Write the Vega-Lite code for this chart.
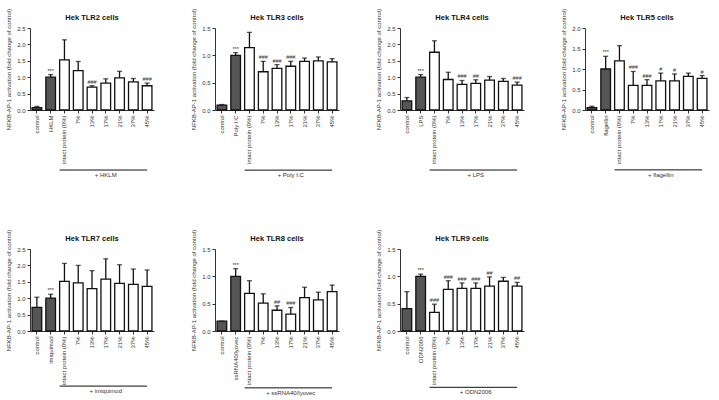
{
  "$schema": "https://vega.github.io/schema/vega-lite/v6.json",
  "datasets": {
    "d": [
      {"panel": "TLR2", "cond": "control", "kind": "ctrl", "value": 0.07, "upper": 0.11, "sig": ""},
      {"panel": "TLR2", "cond": "HKLM", "kind": "ctrl", "value": 1.0, "upper": 1.08, "sig": "***"},
      {"panel": "TLR2", "cond": "intact protein (0%)", "kind": "trt", "value": 1.53, "upper": 2.14, "sig": ""},
      {"panel": "TLR2", "cond": "7%", "kind": "trt", "value": 1.2, "upper": 1.48, "sig": ""},
      {"panel": "TLR2", "cond": "13%", "kind": "trt", "value": 0.7, "upper": 0.74, "sig": "###"},
      {"panel": "TLR2", "cond": "17%", "kind": "trt", "value": 0.82, "upper": 0.95, "sig": ""},
      {"panel": "TLR2", "cond": "21%", "kind": "trt", "value": 0.98, "upper": 1.18, "sig": ""},
      {"panel": "TLR2", "cond": "37%", "kind": "trt", "value": 0.86, "upper": 0.96, "sig": ""},
      {"panel": "TLR2", "cond": "45%", "kind": "trt", "value": 0.74, "upper": 0.82, "sig": "###"},

      {"panel": "TLR3", "cond": "control", "kind": "ctrl", "value": 0.09, "upper": 0.1, "sig": ""},
      {"panel": "TLR3", "cond": "Poly I:C", "kind": "ctrl", "value": 1.0, "upper": 1.05, "sig": "***"},
      {"panel": "TLR3", "cond": "intact protein (0%)", "kind": "trt", "value": 1.14, "upper": 1.42, "sig": ""},
      {"panel": "TLR3", "cond": "7%", "kind": "trt", "value": 0.7, "upper": 0.89, "sig": "###"},
      {"panel": "TLR3", "cond": "13%", "kind": "trt", "value": 0.76, "upper": 0.83, "sig": "###"},
      {"panel": "TLR3", "cond": "17%", "kind": "trt", "value": 0.8, "upper": 0.89, "sig": "###"},
      {"panel": "TLR3", "cond": "21%", "kind": "trt", "value": 0.89, "upper": 0.95, "sig": ""},
      {"panel": "TLR3", "cond": "37%", "kind": "trt", "value": 0.9, "upper": 0.97, "sig": ""},
      {"panel": "TLR3", "cond": "45%", "kind": "trt", "value": 0.88, "upper": 0.94, "sig": ""},

      {"panel": "TLR4", "cond": "control", "kind": "ctrl", "value": 0.28, "upper": 0.38, "sig": ""},
      {"panel": "TLR4", "cond": "LPS", "kind": "ctrl", "value": 1.0, "upper": 1.08, "sig": "***"},
      {"panel": "TLR4", "cond": "intact protein (0%)", "kind": "trt", "value": 1.76, "upper": 2.11, "sig": ""},
      {"panel": "TLR4", "cond": "7%", "kind": "trt", "value": 0.93, "upper": 1.15, "sig": ""},
      {"panel": "TLR4", "cond": "13%", "kind": "trt", "value": 0.78, "upper": 0.9, "sig": "###"},
      {"panel": "TLR4", "cond": "17%", "kind": "trt", "value": 0.81, "upper": 0.92, "sig": "##"},
      {"panel": "TLR4", "cond": "21%", "kind": "trt", "value": 0.91, "upper": 1.02, "sig": ""},
      {"panel": "TLR4", "cond": "37%", "kind": "trt", "value": 0.87, "upper": 0.96, "sig": ""},
      {"panel": "TLR4", "cond": "45%", "kind": "trt", "value": 0.76, "upper": 0.85, "sig": "###"},

      {"panel": "TLR5", "cond": "control", "kind": "ctrl", "value": 0.06, "upper": 0.09, "sig": ""},
      {"panel": "TLR5", "cond": "flagellin", "kind": "ctrl", "value": 1.0, "upper": 1.31, "sig": "***"},
      {"panel": "TLR5", "cond": "intact protein (0%)", "kind": "trt", "value": 1.2, "upper": 1.57, "sig": ""},
      {"panel": "TLR5", "cond": "7%", "kind": "trt", "value": 0.6, "upper": 0.94, "sig": "###"},
      {"panel": "TLR5", "cond": "13%", "kind": "trt", "value": 0.6, "upper": 0.74, "sig": "###"},
      {"panel": "TLR5", "cond": "17%", "kind": "trt", "value": 0.71, "upper": 0.9, "sig": "#"},
      {"panel": "TLR5", "cond": "21%", "kind": "trt", "value": 0.71, "upper": 0.88, "sig": "#"},
      {"panel": "TLR5", "cond": "37%", "kind": "trt", "value": 0.82, "upper": 0.9, "sig": ""},
      {"panel": "TLR5", "cond": "45%", "kind": "trt", "value": 0.77, "upper": 0.84, "sig": "#"},

      {"panel": "TLR7", "cond": "control", "kind": "ctrl", "value": 0.72, "upper": 1.03, "sig": ""},
      {"panel": "TLR7", "cond": "imiquimod", "kind": "ctrl", "value": 1.0, "upper": 1.12, "sig": "***"},
      {"panel": "TLR7", "cond": "intact protein (0%)", "kind": "trt", "value": 1.51, "upper": 2.06, "sig": ""},
      {"panel": "TLR7", "cond": "7%", "kind": "trt", "value": 1.47, "upper": 2.0, "sig": ""},
      {"panel": "TLR7", "cond": "13%", "kind": "trt", "value": 1.29, "upper": 1.84, "sig": ""},
      {"panel": "TLR7", "cond": "17%", "kind": "trt", "value": 1.58, "upper": 2.2, "sig": ""},
      {"panel": "TLR7", "cond": "21%", "kind": "trt", "value": 1.45, "upper": 2.02, "sig": ""},
      {"panel": "TLR7", "cond": "37%", "kind": "trt", "value": 1.42, "upper": 1.89, "sig": ""},
      {"panel": "TLR7", "cond": "45%", "kind": "trt", "value": 1.36, "upper": 1.86, "sig": ""},

      {"panel": "TLR8", "cond": "control", "kind": "ctrl", "value": 0.18, "upper": 0.18, "sig": ""},
      {"panel": "TLR8", "cond": "ssRNA40/lyovec", "kind": "ctrl", "value": 1.0, "upper": 1.14, "sig": "***"},
      {"panel": "TLR8", "cond": "intact protein (0%)", "kind": "trt", "value": 0.69, "upper": 0.92, "sig": ""},
      {"panel": "TLR8", "cond": "7%", "kind": "trt", "value": 0.51, "upper": 0.68, "sig": ""},
      {"panel": "TLR8", "cond": "13%", "kind": "trt", "value": 0.38, "upper": 0.46, "sig": "##"},
      {"panel": "TLR8", "cond": "17%", "kind": "trt", "value": 0.31, "upper": 0.43, "sig": "###"},
      {"panel": "TLR8", "cond": "21%", "kind": "trt", "value": 0.61, "upper": 0.8, "sig": ""},
      {"panel": "TLR8", "cond": "37%", "kind": "trt", "value": 0.57, "upper": 0.71, "sig": ""},
      {"panel": "TLR8", "cond": "45%", "kind": "trt", "value": 0.72, "upper": 0.84, "sig": ""},

      {"panel": "TLR9", "cond": "control", "kind": "ctrl", "value": 0.41, "upper": 0.72, "sig": ""},
      {"panel": "TLR9", "cond": "ODN2006", "kind": "ctrl", "value": 1.0, "upper": 1.04, "sig": "***"},
      {"panel": "TLR9", "cond": "intact protein (0%)", "kind": "trt", "value": 0.34, "upper": 0.49, "sig": "###"},
      {"panel": "TLR9", "cond": "7%", "kind": "trt", "value": 0.76, "upper": 0.92, "sig": "###"},
      {"panel": "TLR9", "cond": "13%", "kind": "trt", "value": 0.78, "upper": 0.88, "sig": "###"},
      {"panel": "TLR9", "cond": "17%", "kind": "trt", "value": 0.78, "upper": 0.88, "sig": "###"},
      {"panel": "TLR9", "cond": "21%", "kind": "trt", "value": 0.82, "upper": 0.99, "sig": "##"},
      {"panel": "TLR9", "cond": "37%", "kind": "trt", "value": 0.91, "upper": 0.98, "sig": ""},
      {"panel": "TLR9", "cond": "45%", "kind": "trt", "value": 0.82, "upper": 0.89, "sig": "##"}
    ]
  },
  "data": {"name": "d"},
  "columns": 4,
  "bounds": "flush",
  "spacing": {"row": 139, "column": 61},
  "padding": {"left": 5, "top": 8, "right": 3, "bottom": 0},
  "concat": [
    {
      "title": "Hek TLR2 cells", "width": 124, "height": 82,
      "transform": [{"filter": "datum.panel === 'TLR2'"}],
      "encoding": {"x": {"field": "cond", "type": "nominal", "title": null, "scale": {"domain": ["control", "HKLM", "intact protein (0%)", "7%", "13%", "17%", "21%", "37%", "45%"], "paddingInner": 0.3, "paddingOuter": 0.15}}},
      "layer": [
        {"mark": {"type": "bar", "stroke": "#111", "strokeWidth": 1.3}, "encoding": {"y": {"field": "value", "type": "quantitative", "title": "NFKB-AP-1 activation (fold change of control)", "scale": {"domain": [0, 2.5], "nice": false}, "axis": {"values": [0, 0.5, 1, 1.5, 2, 2.5], "format": ".1f"}}, "fill": {"field": "kind", "type": "nominal", "scale": {"domain": ["ctrl", "trt"], "range": ["#555555", "#ffffff"]}, "legend": null}}},
        {"mark": {"type": "rule", "color": "#111", "strokeWidth": 1.3}, "encoding": {"y": {"field": "value", "type": "quantitative", "title": "NFKB-AP-1 activation (fold change of control)", "axis": {"values": [0, 0.5, 1, 1.5, 2, 2.5], "format": ".1f"}}, "y2": {"field": "upper"}}},
        {"mark": {"type": "tick", "color": "#111", "thickness": 1.3, "size": 5}, "encoding": {"y": {"field": "upper", "type": "quantitative", "title": "NFKB-AP-1 activation (fold change of control)", "axis": {"values": [0, 0.5, 1, 1.5, 2, 2.5], "format": ".1f"}}}},
        {"mark": {"type": "text", "fontSize": 5.5, "dy": -4, "color": "#333"}, "encoding": {"y": {"field": "upper", "type": "quantitative", "title": "NFKB-AP-1 activation (fold change of control)", "axis": {"values": [0, 0.5, 1, 1.5, 2, 2.5], "format": ".1f"}}, "text": {"field": "sig"}}},
        {"transform": [{"filter": "datum.cond === '45%'"}], "mark": {"type": "rule", "color": "#111", "strokeWidth": 1}, "encoding": {"x": {"datum": "intact protein (0%)", "bandPosition": 0}, "x2": {"datum": "45%"}, "y": {"datum": -1.83, "type": "quantitative", "title": "NFKB-AP-1 activation (fold change of control)", "axis": {"values": [0, 0.5, 1, 1.5, 2, 2.5], "format": ".1f"}}}},
        {"transform": [{"filter": "datum.cond === '45%'"}], "mark": {"type": "text", "fontSize": 6, "baseline": "top", "dy": 2, "color": "#333"}, "encoding": {"x": {"datum": "17%"}, "y": {"datum": -1.83, "type": "quantitative", "title": "NFKB-AP-1 activation (fold change of control)", "axis": {"values": [0, 0.5, 1, 1.5, 2, 2.5], "format": ".1f"}}, "text": {"value": "+ HKLM"}}}
      ]
    },
    {
      "title": "Hek TLR3 cells", "width": 124, "height": 82,
      "transform": [{"filter": "datum.panel === 'TLR3'"}],
      "encoding": {"x": {"field": "cond", "type": "nominal", "title": null, "scale": {"domain": ["control", "Poly I:C", "intact protein (0%)", "7%", "13%", "17%", "21%", "37%", "45%"], "paddingInner": 0.3, "paddingOuter": 0.15}}},
      "layer": [
        {"mark": {"type": "bar", "stroke": "#111", "strokeWidth": 1.3}, "encoding": {"y": {"field": "value", "type": "quantitative", "title": "NFKB-AP-1 activation (fold change of control)", "scale": {"domain": [0, 1.5], "nice": false}, "axis": {"values": [0, 0.5, 1, 1.5], "format": ".1f"}}, "fill": {"field": "kind", "type": "nominal", "scale": {"domain": ["ctrl", "trt"], "range": ["#555555", "#ffffff"]}, "legend": null}}},
        {"mark": {"type": "rule", "color": "#111", "strokeWidth": 1.3}, "encoding": {"y": {"field": "value", "type": "quantitative", "title": "NFKB-AP-1 activation (fold change of control)", "axis": {"values": [0, 0.5, 1, 1.5], "format": ".1f"}}, "y2": {"field": "upper"}}},
        {"mark": {"type": "tick", "color": "#111", "thickness": 1.3, "size": 5}, "encoding": {"y": {"field": "upper", "type": "quantitative", "title": "NFKB-AP-1 activation (fold change of control)", "axis": {"values": [0, 0.5, 1, 1.5], "format": ".1f"}}}},
        {"mark": {"type": "text", "fontSize": 5.5, "dy": -4, "color": "#333"}, "encoding": {"y": {"field": "upper", "type": "quantitative", "title": "NFKB-AP-1 activation (fold change of control)", "axis": {"values": [0, 0.5, 1, 1.5], "format": ".1f"}}, "text": {"field": "sig"}}},
        {"transform": [{"filter": "datum.cond === '45%'"}], "mark": {"type": "rule", "color": "#111", "strokeWidth": 1}, "encoding": {"x": {"datum": "intact protein (0%)", "bandPosition": 0}, "x2": {"datum": "45%"}, "y": {"datum": -1.1, "type": "quantitative", "title": "NFKB-AP-1 activation (fold change of control)", "axis": {"values": [0, 0.5, 1, 1.5], "format": ".1f"}}}},
        {"transform": [{"filter": "datum.cond === '45%'"}], "mark": {"type": "text", "fontSize": 6, "baseline": "top", "dy": 2, "color": "#333"}, "encoding": {"x": {"datum": "17%"}, "y": {"datum": -1.1, "type": "quantitative", "title": "NFKB-AP-1 activation (fold change of control)", "axis": {"values": [0, 0.5, 1, 1.5], "format": ".1f"}}, "text": {"value": "+ Poly I:C"}}}
      ]
    },
    {
      "title": "Hek TLR4 cells", "width": 124, "height": 82,
      "transform": [{"filter": "datum.panel === 'TLR4'"}],
      "encoding": {"x": {"field": "cond", "type": "nominal", "title": null, "scale": {"domain": ["control", "LPS", "intact protein (0%)", "7%", "13%", "17%", "21%", "37%", "45%"], "paddingInner": 0.3, "paddingOuter": 0.15}}},
      "layer": [
        {"mark": {"type": "bar", "stroke": "#111", "strokeWidth": 1.3}, "encoding": {"y": {"field": "value", "type": "quantitative", "title": "NFKB-AP-1 activation (fold change of control)", "scale": {"domain": [0, 2.5], "nice": false}, "axis": {"values": [0, 0.5, 1, 1.5, 2, 2.5], "format": ".1f"}}, "fill": {"field": "kind", "type": "nominal", "scale": {"domain": ["ctrl", "trt"], "range": ["#555555", "#ffffff"]}, "legend": null}}},
        {"mark": {"type": "rule", "color": "#111", "strokeWidth": 1.3}, "encoding": {"y": {"field": "value", "type": "quantitative", "title": "NFKB-AP-1 activation (fold change of control)", "axis": {"values": [0, 0.5, 1, 1.5, 2, 2.5], "format": ".1f"}}, "y2": {"field": "upper"}}},
        {"mark": {"type": "tick", "color": "#111", "thickness": 1.3, "size": 5}, "encoding": {"y": {"field": "upper", "type": "quantitative", "title": "NFKB-AP-1 activation (fold change of control)", "axis": {"values": [0, 0.5, 1, 1.5, 2, 2.5], "format": ".1f"}}}},
        {"mark": {"type": "text", "fontSize": 5.5, "dy": -4, "color": "#333"}, "encoding": {"y": {"field": "upper", "type": "quantitative", "title": "NFKB-AP-1 activation (fold change of control)", "axis": {"values": [0, 0.5, 1, 1.5, 2, 2.5], "format": ".1f"}}, "text": {"field": "sig"}}},
        {"transform": [{"filter": "datum.cond === '45%'"}], "mark": {"type": "rule", "color": "#111", "strokeWidth": 1}, "encoding": {"x": {"datum": "intact protein (0%)", "bandPosition": 0}, "x2": {"datum": "45%"}, "y": {"datum": -1.83, "type": "quantitative", "title": "NFKB-AP-1 activation (fold change of control)", "axis": {"values": [0, 0.5, 1, 1.5, 2, 2.5], "format": ".1f"}}}},
        {"transform": [{"filter": "datum.cond === '45%'"}], "mark": {"type": "text", "fontSize": 6, "baseline": "top", "dy": 2, "color": "#333"}, "encoding": {"x": {"datum": "17%"}, "y": {"datum": -1.83, "type": "quantitative", "title": "NFKB-AP-1 activation (fold change of control)", "axis": {"values": [0, 0.5, 1, 1.5, 2, 2.5], "format": ".1f"}}, "text": {"value": "+ LPS"}}}
      ]
    },
    {
      "title": "Hek TLR5 cells", "width": 124, "height": 82,
      "transform": [{"filter": "datum.panel === 'TLR5'"}],
      "encoding": {"x": {"field": "cond", "type": "nominal", "title": null, "scale": {"domain": ["control", "flagellin", "intact protein (0%)", "7%", "13%", "17%", "21%", "37%", "45%"], "paddingInner": 0.3, "paddingOuter": 0.15}}},
      "layer": [
        {"mark": {"type": "bar", "stroke": "#111", "strokeWidth": 1.3}, "encoding": {"y": {"field": "value", "type": "quantitative", "title": "NFKB-AP-1 activation (fold change of control)", "scale": {"domain": [0, 2.0], "nice": false}, "axis": {"values": [0, 0.5, 1, 1.5, 2], "format": ".1f"}}, "fill": {"field": "kind", "type": "nominal", "scale": {"domain": ["ctrl", "trt"], "range": ["#555555", "#ffffff"]}, "legend": null}}},
        {"mark": {"type": "rule", "color": "#111", "strokeWidth": 1.3}, "encoding": {"y": {"field": "value", "type": "quantitative", "title": "NFKB-AP-1 activation (fold change of control)", "axis": {"values": [0, 0.5, 1, 1.5, 2], "format": ".1f"}}, "y2": {"field": "upper"}}},
        {"mark": {"type": "tick", "color": "#111", "thickness": 1.3, "size": 5}, "encoding": {"y": {"field": "upper", "type": "quantitative", "title": "NFKB-AP-1 activation (fold change of control)", "axis": {"values": [0, 0.5, 1, 1.5, 2], "format": ".1f"}}}},
        {"mark": {"type": "text", "fontSize": 5.5, "dy": -4, "color": "#333"}, "encoding": {"y": {"field": "upper", "type": "quantitative", "title": "NFKB-AP-1 activation (fold change of control)", "axis": {"values": [0, 0.5, 1, 1.5, 2], "format": ".1f"}}, "text": {"field": "sig"}}},
        {"transform": [{"filter": "datum.cond === '45%'"}], "mark": {"type": "rule", "color": "#111", "strokeWidth": 1}, "encoding": {"x": {"datum": "intact protein (0%)", "bandPosition": 0}, "x2": {"datum": "45%"}, "y": {"datum": -1.46, "type": "quantitative", "title": "NFKB-AP-1 activation (fold change of control)", "axis": {"values": [0, 0.5, 1, 1.5, 2], "format": ".1f"}}}},
        {"transform": [{"filter": "datum.cond === '45%'"}], "mark": {"type": "text", "fontSize": 6, "baseline": "top", "dy": 2, "color": "#333"}, "encoding": {"x": {"datum": "17%"}, "y": {"datum": -1.46, "type": "quantitative", "title": "NFKB-AP-1 activation (fold change of control)", "axis": {"values": [0, 0.5, 1, 1.5, 2], "format": ".1f"}}, "text": {"value": "+ flagellin"}}}
      ]
    },
    {
      "title": "Hek TLR7 cells", "width": 124, "height": 82,
      "transform": [{"filter": "datum.panel === 'TLR7'"}],
      "encoding": {"x": {"field": "cond", "type": "nominal", "title": null, "scale": {"domain": ["control", "imiquimod", "intact protein (0%)", "7%", "13%", "17%", "21%", "37%", "45%"], "paddingInner": 0.3, "paddingOuter": 0.15}}},
      "layer": [
        {"mark": {"type": "bar", "stroke": "#111", "strokeWidth": 1.3}, "encoding": {"y": {"field": "value", "type": "quantitative", "title": "NFKB-AP-1 activation (fold change of control)", "scale": {"domain": [0, 2.5], "nice": false}, "axis": {"values": [0, 0.5, 1, 1.5, 2, 2.5], "format": ".1f"}}, "fill": {"field": "kind", "type": "nominal", "scale": {"domain": ["ctrl", "trt"], "range": ["#555555", "#ffffff"]}, "legend": null}}},
        {"mark": {"type": "rule", "color": "#111", "strokeWidth": 1.3}, "encoding": {"y": {"field": "value", "type": "quantitative", "title": "NFKB-AP-1 activation (fold change of control)", "axis": {"values": [0, 0.5, 1, 1.5, 2, 2.5], "format": ".1f"}}, "y2": {"field": "upper"}}},
        {"mark": {"type": "tick", "color": "#111", "thickness": 1.3, "size": 5}, "encoding": {"y": {"field": "upper", "type": "quantitative", "title": "NFKB-AP-1 activation (fold change of control)", "axis": {"values": [0, 0.5, 1, 1.5, 2, 2.5], "format": ".1f"}}}},
        {"mark": {"type": "text", "fontSize": 5.5, "dy": -4, "color": "#333"}, "encoding": {"y": {"field": "upper", "type": "quantitative", "title": "NFKB-AP-1 activation (fold change of control)", "axis": {"values": [0, 0.5, 1, 1.5, 2, 2.5], "format": ".1f"}}, "text": {"field": "sig"}}},
        {"transform": [{"filter": "datum.cond === '45%'"}], "mark": {"type": "rule", "color": "#111", "strokeWidth": 1}, "encoding": {"x": {"datum": "intact protein (0%)", "bandPosition": 0}, "x2": {"datum": "45%"}, "y": {"datum": -1.68, "type": "quantitative", "title": "NFKB-AP-1 activation (fold change of control)", "axis": {"values": [0, 0.5, 1, 1.5, 2, 2.5], "format": ".1f"}}}},
        {"transform": [{"filter": "datum.cond === '45%'"}], "mark": {"type": "text", "fontSize": 6, "baseline": "top", "dy": 2, "color": "#333"}, "encoding": {"x": {"datum": "17%"}, "y": {"datum": -1.68, "type": "quantitative", "title": "NFKB-AP-1 activation (fold change of control)", "axis": {"values": [0, 0.5, 1, 1.5, 2, 2.5], "format": ".1f"}}, "text": {"value": "+ imiquimod"}}}
      ]
    },
    {
      "title": "Hek TLR8 cells", "width": 124, "height": 82,
      "transform": [{"filter": "datum.panel === 'TLR8'"}],
      "encoding": {"x": {"field": "cond", "type": "nominal", "title": null, "scale": {"domain": ["control", "ssRNA40/lyovec", "intact protein (0%)", "7%", "13%", "17%", "21%", "37%", "45%"], "paddingInner": 0.3, "paddingOuter": 0.15}}},
      "layer": [
        {"mark": {"type": "bar", "stroke": "#111", "strokeWidth": 1.3}, "encoding": {"y": {"field": "value", "type": "quantitative", "title": "NFKB-AP-1 activation (fold change of control)", "scale": {"domain": [0, 1.5], "nice": false}, "axis": {"values": [0, 0.5, 1, 1.5], "format": ".1f"}}, "fill": {"field": "kind", "type": "nominal", "scale": {"domain": ["ctrl", "trt"], "range": ["#555555", "#ffffff"]}, "legend": null}}},
        {"mark": {"type": "rule", "color": "#111", "strokeWidth": 1.3}, "encoding": {"y": {"field": "value", "type": "quantitative", "title": "NFKB-AP-1 activation (fold change of control)", "axis": {"values": [0, 0.5, 1, 1.5], "format": ".1f"}}, "y2": {"field": "upper"}}},
        {"mark": {"type": "tick", "color": "#111", "thickness": 1.3, "size": 5}, "encoding": {"y": {"field": "upper", "type": "quantitative", "title": "NFKB-AP-1 activation (fold change of control)", "axis": {"values": [0, 0.5, 1, 1.5], "format": ".1f"}}}},
        {"mark": {"type": "text", "fontSize": 5.5, "dy": -4, "color": "#333"}, "encoding": {"y": {"field": "upper", "type": "quantitative", "title": "NFKB-AP-1 activation (fold change of control)", "axis": {"values": [0, 0.5, 1, 1.5], "format": ".1f"}}, "text": {"field": "sig"}}},
        {"transform": [{"filter": "datum.cond === '45%'"}], "mark": {"type": "rule", "color": "#111", "strokeWidth": 1}, "encoding": {"x": {"datum": "intact protein (0%)", "bandPosition": 0}, "x2": {"datum": "45%"}, "y": {"datum": -1.04, "type": "quantitative", "title": "NFKB-AP-1 activation (fold change of control)", "axis": {"values": [0, 0.5, 1, 1.5], "format": ".1f"}}}},
        {"transform": [{"filter": "datum.cond === '45%'"}], "mark": {"type": "text", "fontSize": 6, "baseline": "top", "dy": 2, "color": "#333"}, "encoding": {"x": {"datum": "17%"}, "y": {"datum": -1.04, "type": "quantitative", "title": "NFKB-AP-1 activation (fold change of control)", "axis": {"values": [0, 0.5, 1, 1.5], "format": ".1f"}}, "text": {"value": "+ ssRNA40/lyovec"}}}
      ]
    },
    {
      "title": "Hek TLR9 cells", "width": 124, "height": 82,
      "transform": [{"filter": "datum.panel === 'TLR9'"}],
      "encoding": {"x": {"field": "cond", "type": "nominal", "title": null, "scale": {"domain": ["control", "ODN2006", "intact protein (0%)", "7%", "13%", "17%", "21%", "37%", "45%"], "paddingInner": 0.3, "paddingOuter": 0.15}}},
      "layer": [
        {"mark": {"type": "bar", "stroke": "#111", "strokeWidth": 1.3}, "encoding": {"y": {"field": "value", "type": "quantitative", "title": "NFKB-AP-1 activation (fold change of control)", "scale": {"domain": [0, 1.5], "nice": false}, "axis": {"values": [0, 0.5, 1, 1.5], "format": ".1f"}}, "fill": {"field": "kind", "type": "nominal", "scale": {"domain": ["ctrl", "trt"], "range": ["#555555", "#ffffff"]}, "legend": null}}},
        {"mark": {"type": "rule", "color": "#111", "strokeWidth": 1.3}, "encoding": {"y": {"field": "value", "type": "quantitative", "title": "NFKB-AP-1 activation (fold change of control)", "axis": {"values": [0, 0.5, 1, 1.5], "format": ".1f"}}, "y2": {"field": "upper"}}},
        {"mark": {"type": "tick", "color": "#111", "thickness": 1.3, "size": 5}, "encoding": {"y": {"field": "upper", "type": "quantitative", "title": "NFKB-AP-1 activation (fold change of control)", "axis": {"values": [0, 0.5, 1, 1.5], "format": ".1f"}}}},
        {"mark": {"type": "text", "fontSize": 5.5, "dy": -4, "color": "#333"}, "encoding": {"y": {"field": "upper", "type": "quantitative", "title": "NFKB-AP-1 activation (fold change of control)", "axis": {"values": [0, 0.5, 1, 1.5], "format": ".1f"}}, "text": {"field": "sig"}}},
        {"transform": [{"filter": "datum.cond === '45%'"}], "mark": {"type": "rule", "color": "#111", "strokeWidth": 1}, "encoding": {"x": {"datum": "intact protein (0%)", "bandPosition": 0}, "x2": {"datum": "45%"}, "y": {"datum": -1.03, "type": "quantitative", "title": "NFKB-AP-1 activation (fold change of control)", "axis": {"values": [0, 0.5, 1, 1.5], "format": ".1f"}}}},
        {"transform": [{"filter": "datum.cond === '45%'"}], "mark": {"type": "text", "fontSize": 6, "baseline": "top", "dy": 2, "color": "#333"}, "encoding": {"x": {"datum": "17%"}, "y": {"datum": -1.03, "type": "quantitative", "title": "NFKB-AP-1 activation (fold change of control)", "axis": {"values": [0, 0.5, 1, 1.5], "format": ".1f"}}, "text": {"value": "+ ODN2006"}}}
      ]
    }
  ],
  "config": {
    "font": "Liberation Sans",
    "view": {"stroke": null},
    "axis": {"labelFontSize": 6, "titleFontSize": 6, "titleFontWeight": "normal", "labelColor": "#333", "titleColor": "#333", "domainColor": "#333", "tickColor": "#333", "tickSize": 3, "grid": false, "labelOverlap": false},
    "axisX": {"labelAngle": -90, "labelPadding": 2},
    "axisY": {"titlePadding": 5, "labelPadding": 2, "labelFlush": false},
    "title": {"fontSize": 7.5, "fontWeight": "bold", "offset": -13, "color": "#111"}
  }
}
